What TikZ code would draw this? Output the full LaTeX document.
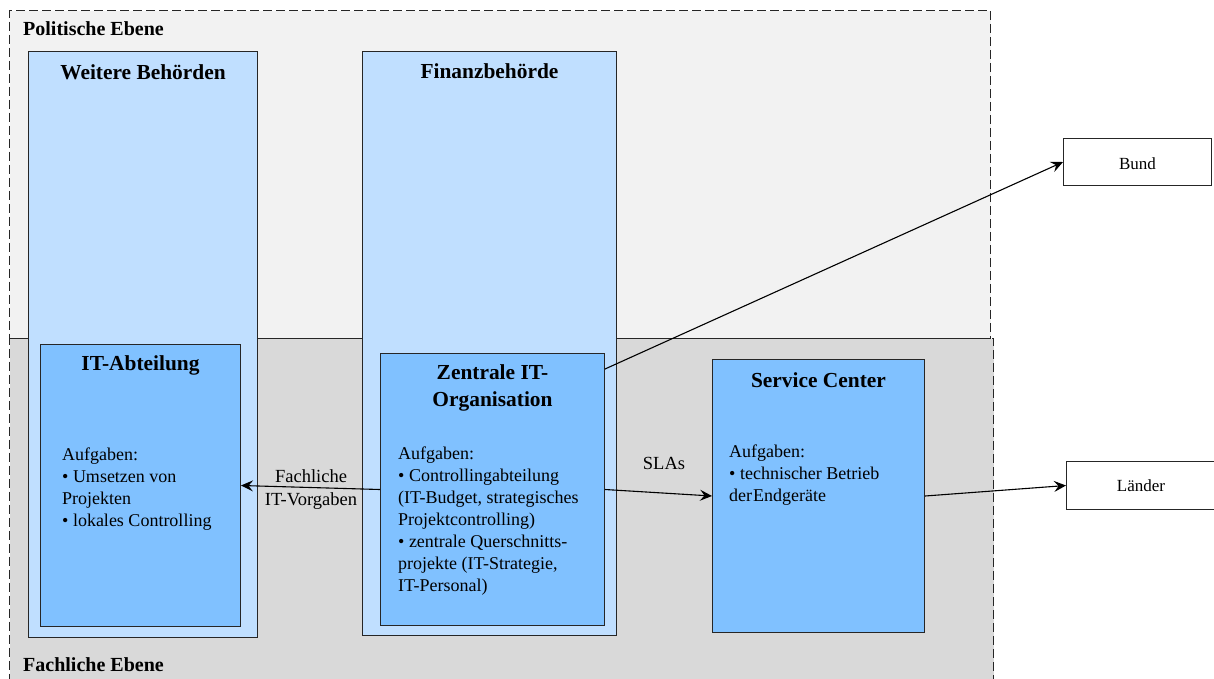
\documentclass[tikz,border=0pt]{standalone}
\usepackage{fontspec}
\setmainfont{Liberation Serif}
\usetikzlibrary{arrows.meta}
\definecolor{polbg}{HTML}{F2F2F2}
\definecolor{fachbg}{HTML}{D9D9D9}
\definecolor{outerblue}{HTML}{C0DFFF}
\definecolor{innerblue}{HTML}{80C1FF}
\definecolor{edge}{HTML}{262626}
\begin{document}
\begin{tikzpicture}[x=1pt,y=-1pt,
  levelbox/.style={draw=edge, dash pattern=on 9pt off 4pt, line width=1pt, inner sep=0pt, anchor=north west},
  levellabel/.style={font=\fontsize{20}{24}\selectfont\bfseries, inner sep=0pt, anchor=base west},
  outerbox/.style={draw=edge, fill=outerblue, line width=1pt, inner sep=0pt, anchor=north west},
  innerbox/.style={draw=edge, fill=innerblue, line width=1pt, inner sep=0pt, anchor=north west},
  extbox/.style={draw=edge, fill=white, line width=1pt, inner sep=0pt, anchor=north west},
  title/.style={font=\fontsize{21.4}{27}\selectfont\bfseries, align=center, inner sep=0pt},
  body/.style={font=\fontsize{18}{22}\selectfont, align=left, inner sep=0pt, anchor=north west},
  elabel/.style={font=\fontsize{18.5}{23}\selectfont, align=center, inner sep=0pt},
  extlabel/.style={font=\fontsize{17}{20}\selectfont, inner sep=0pt},
  arr/.style={-{Stealth[length=12pt,width=11pt,inset=4.5pt]}, line width=1.1pt, draw=black}
]
\useasboundingbox (0,0) rectangle (1214,678);
\clip (0,0) rectangle (1214,678);

% the two levels
\node[levelbox, fill=polbg, minimum width=981pt, minimum height=328pt] (pol) at (9,10) {};
\node[levelbox, fill=fachbg, minimum width=984pt, minimum height=362pt] (fach) at (9,338) {};
\node[levellabel] (polL) at (23,35) {Politische Ebene};
\node[levellabel] (fachL) at (23,671) {Fachliche Ebene};

% authorities
\node[outerbox, minimum width=229pt, minimum height=586pt] (wb) at (28,51) {};
\node[title] (wbT) at ([yshift=-21pt]wb.north) {Weitere Behörden};
\node[outerbox, minimum width=254pt, minimum height=584pt] (fb) at (362,51) {};
\node[title] (fbT) at ([yshift=-20pt]fb.north) {Finanzbehörde};

% IT units
\node[innerbox, minimum width=200pt, minimum height=282pt] (ita) at (40,344) {};
\node[title] (itaT) at ([yshift=-21pt]ita.north) {IT-Abteilung};
\node[body] (itaB) at (62,448) {Aufgaben:\\• Umsetzen von\\Projekten\\• lokales Controlling};

\node[innerbox, minimum width=224pt, minimum height=272pt] (zio) at (380,353) {};
\node[title] (zioT) at ([yshift=-35pt]zio.north) {Zentrale IT-\\Organisation};
\node[body] (zioB) at (398,447) {Aufgaben:\\• Controllingabteilung\\(IT-Budget, strategisches\\Projektcontrolling)\\• zentrale Querschnitts-\\projekte (IT-Strategie,\\IT-Personal)};

\node[innerbox, minimum width=212pt, minimum height=273pt] (sc) at (712,359) {};
\node[title] (scT) at ([yshift=-21pt]sc.north) {Service Center};
\node[body] (scB) at (729,445) {Aufgaben:\\• technischer Betrieb\\der\hspace{1pt}Endgeräte};

% external partners
\node[extbox, minimum width=148pt, minimum height=47pt] (bund) at (1063,138) {};
\node[extlabel] (bundL) at ([yshift=-1.5pt]bund.center) {Bund};
\node[extbox, minimum width=150pt, minimum height=48pt] (laender) at (1066,461) {};
\node[extlabel] (laenderL) at (1141,485.5) {Länder};

% connectors
\draw[arr] (zio.west) -- (ita.east);
\node[elabel] (vorgL) at (311,489.5) {Fachliche\\IT-Vorgaben};
\draw[arr] (zio.east) -- (sc.west);
\node[elabel] (slaL) at (664,463) {SLAs};
\draw[arr] ([yshift=-16pt]zio.north east) -- (bund.west);
\draw[arr] (sc.east) -- (laender.west);
\end{tikzpicture}
\end{document}
